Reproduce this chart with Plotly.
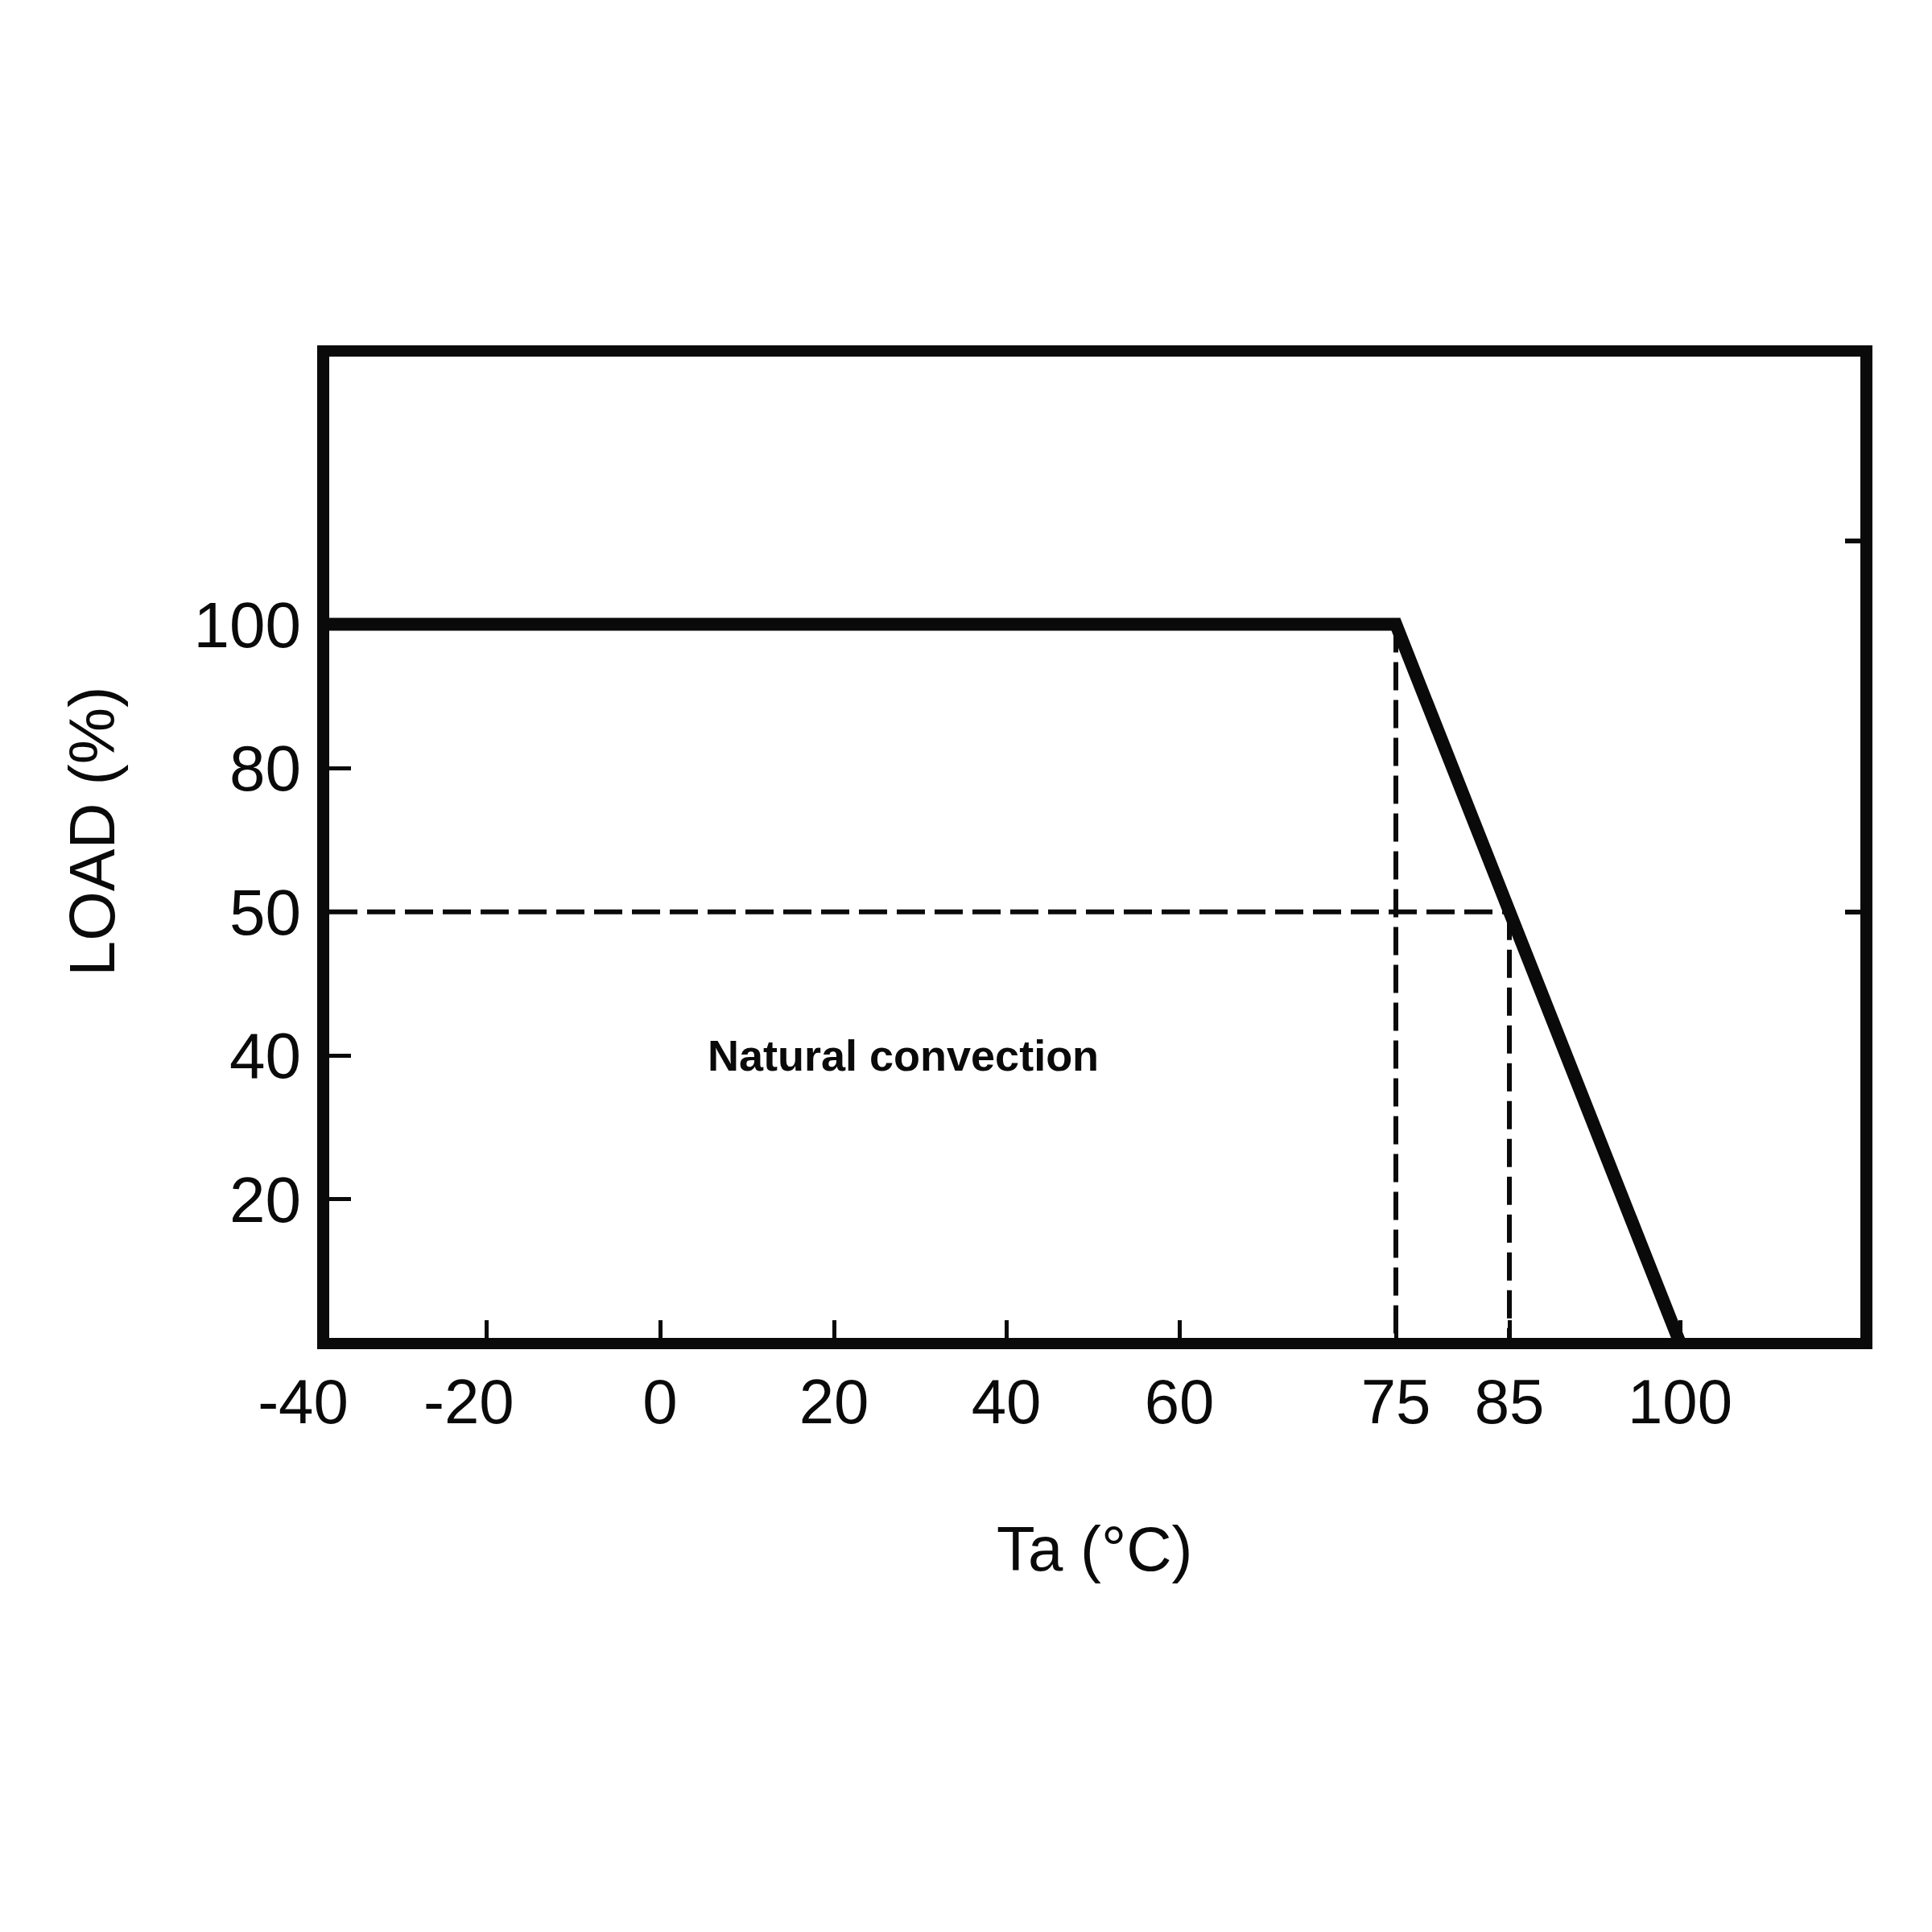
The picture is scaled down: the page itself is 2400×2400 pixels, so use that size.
import numpy as np
import plotly.graph_objects as go

# ---------------- data ----------------
temp_c = [-40, 75, 100]          # derating curve, ambient temperature (°C)
load_pct = [100, 100, 0]         # load (%)

guide75_x = [75, 75]
guide75_y = [100, 0]
guide85_x = [85, 85]
guide85_y = [50, 0]
guide50_x = [-40, 85]
guide50_y = [50, 50]

x_tick_values = [-40, -20, 0, 20, 40, 60, 75, 85, 100]
x_tick_labels = ["-40\u00a0\u00a0\u00a0", "-20\u00a0\u00a0", "0", "20", "40", "60", "75", "85", "100"]
y_tick_values = [20, 40, 50, 80, 100]
y_tick_labels = ["20", "40", "50", "80", "100"]

note_text = "Natural convection"
note_at = (28, 40)

# ---------------- axis scale (non-uniform, as drawn in the datasheet) ----------------
X_SCALE_VALUES = [-40, -20, 0, 20, 40, 60, 75, 85, 100]
X_SCALE_POS = [8, 203, 419, 635, 849, 1064, 1333, 1474, 1686]
X_RANGE = [8, 1910]
Y_SCALE_VALUES = [0, 20, 40, 50, 80, 100]
Y_SCALE_POS = [0, 1, 2, 3, 4, 5]
Y_RANGE = [0.0364, 6.862]
Y_RIGHT_TICKS = [3, 5.58]


def sx(v):
    return list(np.interp(v, X_SCALE_VALUES, X_SCALE_POS))


def sy(v):
    return list(np.interp(v, Y_SCALE_VALUES, Y_SCALE_POS))


FONT = "Liberation Sans, Arial, sans-serif"
BLACK = "#0a0a0a"

fig = go.Figure()

dash = "35px,12px"
for gx, gy in [(guide50_x, guide50_y), (guide75_x, guide75_y), (guide85_x, guide85_y)]:
    fig.add_trace(go.Scatter(x=sx(gx), y=sy(gy), mode="lines",
                             line=dict(color=BLACK, width=6, dash=dash),
                             hoverinfo="skip", showlegend=False))

fig.add_trace(go.Scatter(x=sx(temp_c), y=sy(load_pct), mode="lines",
                         line=dict(color=BLACK, width=16),
                         hoverinfo="skip", showlegend=False))

# invisible trace to attach the right-hand axis
fig.add_trace(go.Scatter(x=sx([-40]), y=sy([0]), yaxis="y2", mode="lines",
                         line=dict(width=0), hoverinfo="skip", showlegend=False))

fig.add_annotation(x=sx([note_at[0]])[0], y=sy([note_at[1]])[0], xref="x", yref="y",
                   text="<b>" + note_text + "</b>", showarrow=False,
                   font=dict(family=FONT, size=54, color=BLACK),
                   xanchor="center", yanchor="middle")

fig.add_annotation(x=0.5, y=-0.215, xref="paper", yref="paper",
                   text="Ta (°C)", showarrow=False,
                   font=dict(family=FONT, size=78, color=BLACK),
                   xanchor="center", yanchor="middle")

fig.add_annotation(x=-0.155, y=0.5164, xref="paper", yref="paper",
                   text="LOAD (%)", showarrow=False, textangle=-90,
                   font=dict(family=FONT, size=79, color=BLACK),
                   xanchor="center", yanchor="middle")

fig.update_layout(
    width=2400, height=2400,
    margin=dict(l=409, r=89, t=443, b=738, pad=0),
    paper_bgcolor="white", plot_bgcolor="white",
    showlegend=False,
    xaxis=dict(range=X_RANGE, tickmode="array", tickvals=sx(x_tick_values), ticktext=x_tick_labels,
               ticks="inside", ticklen=22, tickwidth=5, tickcolor=BLACK,
               showline=True, linewidth=14, linecolor=BLACK, mirror=True,
               showgrid=False, zeroline=False,
               tickfont=dict(family=FONT, size=78, color=BLACK), ticklabelstandoff=-2),
    yaxis=dict(range=Y_RANGE, tickmode="array", tickvals=sy(y_tick_values), ticktext=y_tick_labels,
               ticks="inside", ticklen=27, tickwidth=5, tickcolor=BLACK,
               showline=True, linewidth=15, linecolor=BLACK, mirror=True,
               showgrid=False, zeroline=False,
               tickfont=dict(family=FONT, size=80, color=BLACK), ticklabelstandoff=4),
    yaxis2=dict(range=Y_RANGE, overlaying="y", side="right", tickmode="array",
                tickvals=Y_RIGHT_TICKS, ticks="inside", ticklen=19, tickwidth=6, tickcolor=BLACK,
                showticklabels=False, showline=False, showgrid=False, zeroline=False),
)

fig.write_html("out.html")
